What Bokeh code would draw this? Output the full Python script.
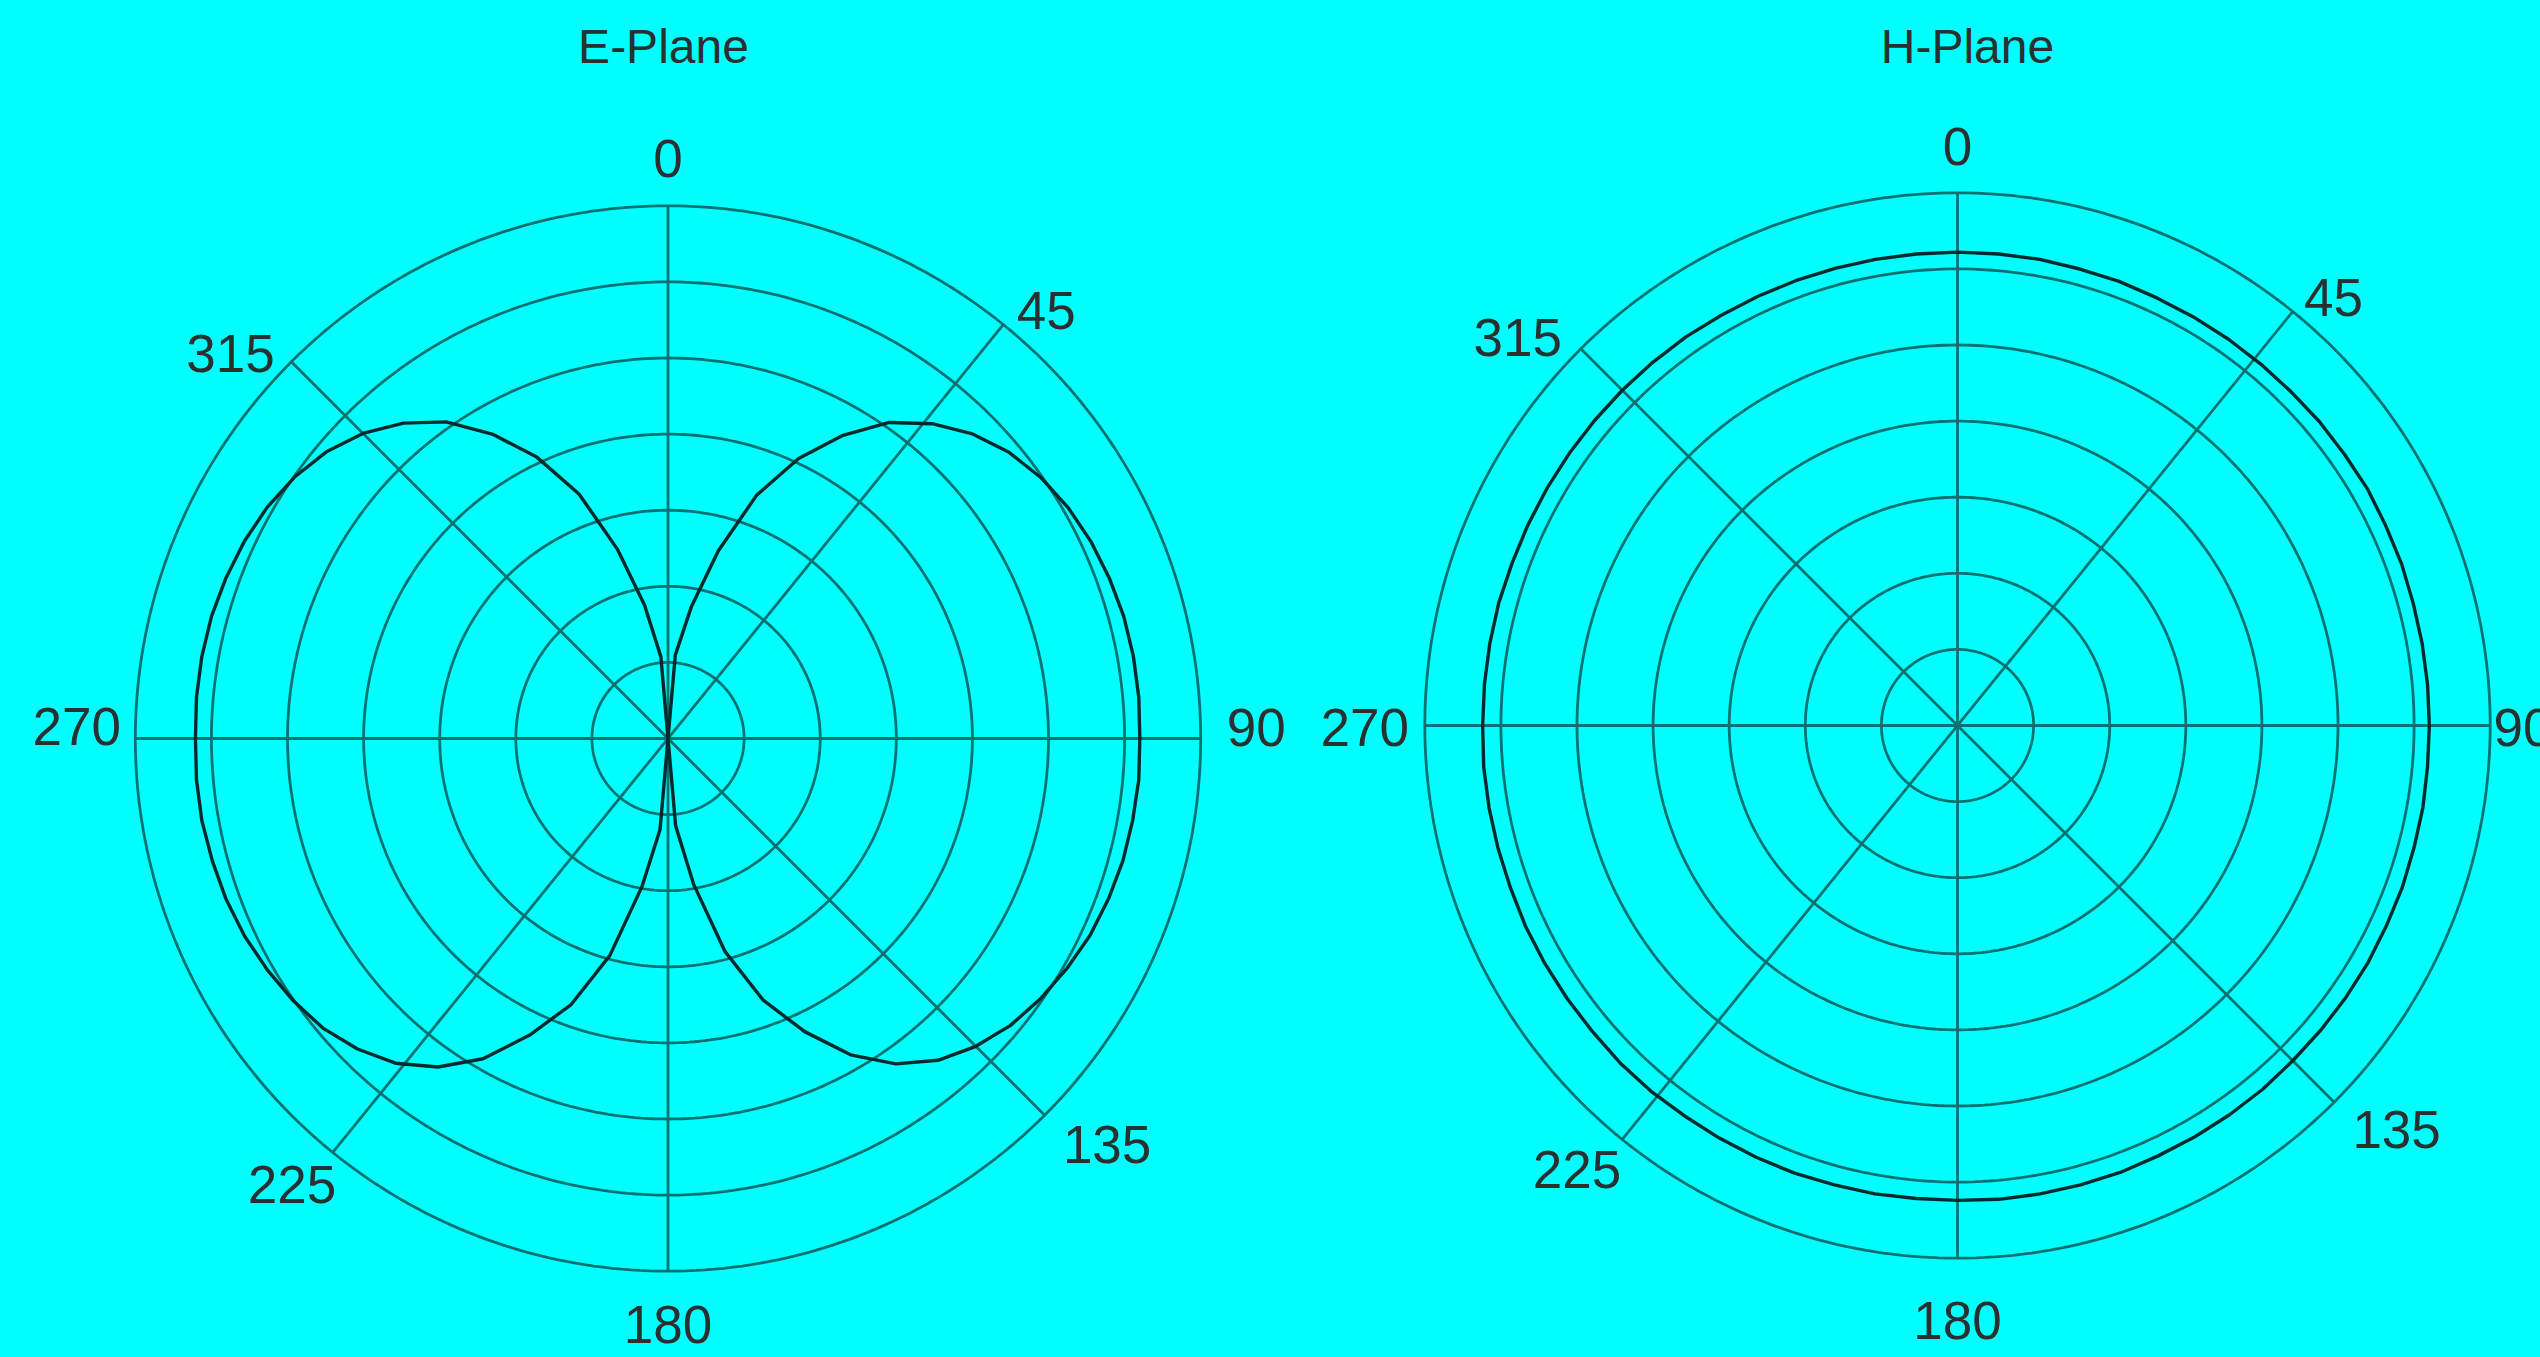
import numpy as np
from bokeh.plotting import figure
from bokeh.models import Range1d
from bokeh.core.properties import value
from bokeh.embed import file_html
from bokeh.resources import INLINE

# ---------------------------------------------------------------------------
# Radiation pattern data: bearing in degrees (0 at top, clockwise),
# radius in grid-ring units (the outermost ring is 7).
# ---------------------------------------------------------------------------
e_plane_angle = list(range(0, 360, 5))
e_plane_radius = [
    # 0 .. 90
    0.00, 1.10, 1.75, 2.55, 3.40, 4.06, 4.60, 5.07, 5.40, 5.66,
    5.85, 5.98, 6.07, 6.13, 6.17, 6.20, 6.21, 6.21, 6.20,
    # 95 .. 180
    6.21, 6.20, 6.19, 6.16, 6.12, 6.05, 5.97, 5.87, 5.72, 5.52,
    5.22, 4.80, 4.25, 3.66, 2.90, 1.95, 1.15, 0.00,
    # 185 .. 270
    1.20, 1.98, 2.95, 3.72, 4.30, 4.86, 5.27, 5.57, 5.77, 5.92,
    6.01, 6.08, 6.14, 6.18, 6.20, 6.22, 6.22, 6.21,
    # 275 .. 355
    6.22, 6.22, 6.21, 6.18, 6.14, 6.08, 5.99, 5.86, 5.67, 5.41,
    5.08, 4.62, 4.08, 3.42, 2.58, 1.78, 1.08,
]

h_plane_angle = list(range(0, 360, 5))
h_plane_radius = [
    # 0 .. 85
    6.22, 6.22, 6.22, 6.21, 6.21, 6.20, 6.20, 6.20, 6.20, 6.20,
    6.21, 6.21, 6.22, 6.21, 6.21, 6.20, 6.20, 6.20,
    # 90 .. 175
    6.20, 6.20, 6.21, 6.21, 6.22, 6.22, 6.23, 6.23, 6.23, 6.23,
    6.24, 6.24, 6.24, 6.24, 6.25, 6.25, 6.25, 6.25,
    # 180 .. 265
    6.24, 6.24, 6.25, 6.25, 6.26, 6.26, 6.26, 6.26, 6.27, 6.27,
    6.26, 6.26, 6.26, 6.26, 6.25, 6.25, 6.25, 6.25,
    # 270 .. 355
    6.24, 6.24, 6.24, 6.24, 6.23, 6.23, 6.23, 6.23, 6.23, 6.23,
    6.23, 6.23, 6.22, 6.22, 6.22, 6.22, 6.22, 6.22,
]

ring_levels = [1, 2, 3, 4, 5, 6, 7]
tick_labels = ["0", "45", "90", "135", "180", "225", "270", "315"]
titles = ["E-Plane", "H-Plane"]

# ---------------------------------------------------------------------------
# Layout and style
# ---------------------------------------------------------------------------
PX_PER_UNIT = 76.1
FIG_W, FIG_H = 2540, 1357
BG = "#00ffff"
GRID_COLOR = "#067272"
CURVE_COLOR = "#002b2c"
TEXT_COLOR = "#283030"
FONT = "Liberation Sans"

# spokes drawn as full diameters (bearing of one end)
SPOKE_BEARINGS = [0, 39, 90, 135]

# label offsets from each pole, in ring units (x right, y up)
E_LABEL_POS = [(0, 7.62), (4.97, 5.62), (7.73, 0.15), (5.77, -5.33),
               (0, -7.70), (-4.94, -5.86), (-7.77, 0.16), (-5.75, 5.06)]
H_LABEL_POS = [(0, 7.61), (4.94, 5.62), (7.43, -0.02), (5.77, -5.31),
               (0, -7.82), (-5.0, -5.83), (-7.79, -0.02), (-5.78, 5.10)]

# pole positions in page pixels, and title centres in page pixels
panels = [
    dict(pole_px=(667.5, 738.0), title_px=(663, 46), labels=E_LABEL_POS,
         angle=e_plane_angle, radius=e_plane_radius),
    dict(pole_px=(1957.0, 725.0), title_px=(1967, 46), labels=H_LABEL_POS,
         angle=h_plane_angle, radius=h_plane_radius),
]

# data space: ring units, origin at the E-plane pole
k = PX_PER_UNIT
ox, oy = panels[0]["pole_px"]
p = figure(
    width=FIG_W, height=FIG_H,
    x_range=Range1d(-ox / k, (FIG_W - ox) / k),
    y_range=Range1d(-(FIG_H - oy) / k, oy / k),
    output_backend="svg", toolbar_location=None,
    min_border=0, min_border_left=0, min_border_right=0,
    min_border_top=0, min_border_bottom=0,
    background_fill_color=BG, border_fill_color=BG,
    outline_line_color=None,
)
p.axis.visible = False
p.grid.visible = False


def page_to_data(px, py):
    return (px - ox) / k, (oy - py) / k


def polar_xy(bearing_deg, r, centre):
    t = np.radians(np.asarray(bearing_deg, dtype=float))
    r = np.asarray(r, dtype=float)
    return centre[0] + r * np.sin(t), centre[1] + r * np.cos(t)


for cfg, title in zip(panels, titles):
    c = page_to_data(*cfg["pole_px"])

    # concentric rings
    t = np.linspace(0, 360, 361)
    xs, ys = [], []
    for lev in ring_levels:
        x, y = polar_xy(t, np.full_like(t, lev), c)
        xs.append(x)
        ys.append(y)
    p.multi_line(xs, ys, line_color=GRID_COLOR, line_width=2.8)

    # spokes
    rmax = max(ring_levels)
    sx, sy = [], []
    for b in SPOKE_BEARINGS:
        x, y = polar_xy([b, b + 180], [rmax, rmax], c)
        sx.append(x)
        sy.append(y)
    p.multi_line(sx, sy, line_color=GRID_COLOR, line_width=2.8)

    # pattern trace (closed)
    ang = list(cfg["angle"]) + [cfg["angle"][0] + 360]
    rad = list(cfg["radius"]) + [cfg["radius"][0]]
    x, y = polar_xy(ang, rad, c)
    p.line(x, y, line_color=CURVE_COLOR, line_width=3.4,
           line_join="round")

    # angle labels
    lx = [c[0] + pos[0] for pos in cfg["labels"]]
    ly = [c[1] + pos[1] for pos in cfg["labels"]]
    p.text(x=lx, y=ly, text=tick_labels, text_font=value(FONT),
           text_font_size="53px", text_align="center",
           text_baseline="middle", text_color=TEXT_COLOR)

    # panel title
    tx, ty = page_to_data(*cfg["title_px"])
    p.text(x=[tx], y=[ty], text=[title], text_font=value(FONT),
           text_font_size="48px", text_align="center",
           text_baseline="middle", text_color=TEXT_COLOR)

html = file_html(p, INLINE)
# page background matches the plot so no light seam shows at the edges
html = html.replace(
    "<head>",
    "<head><style>html, body { margin: 0; background: #00ffff; }</style>",
    1,
)
open("out.html", "w").write(html)
